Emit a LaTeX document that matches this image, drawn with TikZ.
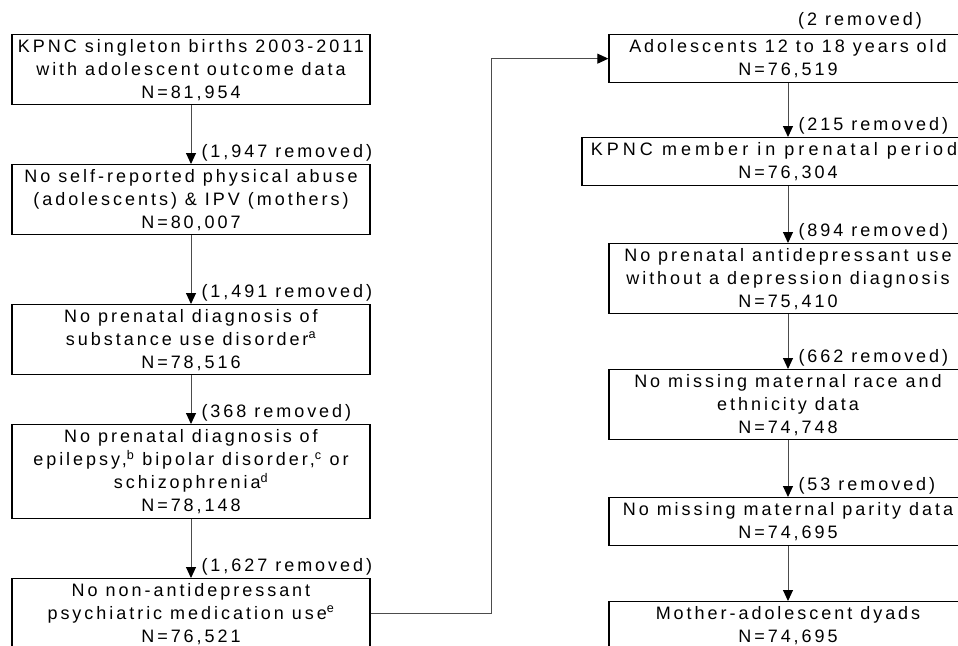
\documentclass[tikz,border=0pt]{standalone}
\usepackage{fontspec}
\usetikzlibrary{arrows.meta,calc}
\newfontfamily\figfont[LetterSpace=16.5]{Liberation Sans}
\newfontfamily\figwidefont[LetterSpace=22.5]{Liberation Sans}
\begin{document}
\begin{tikzpicture}[x=1pt,y=-1pt,
  box/.style={draw=black, line width=1.3pt, fill=white, minimum width=358pt,
    align=center, inner sep=0pt, anchor=north,
    font=\figfont\fontsize{18}{23}\selectfont},
  lab/.style={inner sep=0pt, font=\figfont\fontsize{18}{23}\selectfont},
  arr/.style={draw=black!70, line width=1pt,
    -{Triangle[color=black,width=10pt,length=11pt]}}
]
\useasboundingbox (0,0) rectangle (958,645);
\clip (0,0) rectangle (958,645);
\fill[white] (0,0) rectangle (958,645);

% left column
\node[box, minimum height=70pt] (B1) at (191,34)
  {KPNC singleton births 2003-2011\\with adolescent outcome data\\N=81,954};
\node[box, minimum height=70pt] (B2) at (191,164)
  {No self-reported physical abuse\\(adolescents) \& IPV (mothers)\\N=80,007};
\node[box, minimum height=70pt] (B3) at (191,304)
  {No prenatal diagnosis of\\substance use disorder\textsuperscript{a}\\N=78,516};
\node[box, minimum height=94pt] (B4) at (191,424)
  {No prenatal diagnosis of\\epilepsy,\textsuperscript{b} bipolar disorder,\textsuperscript{c} or\\schizophrenia\textsuperscript{d}\\N=78,148};
\node[box, minimum height=70pt] (B5) at (191,578)
  {No non-antidepressant\\psychiatric medication use\textsuperscript{e}\\N=76,521};

% right column
\node[box, minimum height=48pt] (R1) at (788,34)
  {Adolescents 12 to 18 years old\\N=76,519};
\node[box, minimum height=48pt, minimum width=412pt] (R2) at (788,137)
  {\hspace*{-28pt}{\figwidefont KPNC member in prenatal period}\\N=76,304};
\node[box, minimum height=70pt] (R3) at (788,243)
  {No prenatal antidepressant use\\without a depression diagnosis\\N=75,410};
\node[box, minimum height=70pt] (R4) at (788,369)
  {No missing maternal race and\\ethnicity data\\N=74,748};
\node[box, minimum height=48pt] (R5) at (788,497)
  {No missing maternal parity data\\N=74,695};
\node[box, minimum height=48pt] (R6) at (788,601)
  {Mother-adolescent dyads\\N=74,695};

% connectors
\draw[arr] (B1.south) -- (B2.north)
  node[lab, pos=1, anchor=base west, xshift=10pt, yshift=6.7pt] (L1) {(1,947 removed)};
\draw[arr] (B2.south) -- (B3.north)
  node[lab, pos=1, anchor=base west, xshift=10pt, yshift=6.7pt] (L2) {(1,491 removed)};
\draw[arr] (B3.south) -- (B4.north)
  node[lab, pos=1, anchor=base west, xshift=10pt, yshift=6.7pt] (L3) {(368 removed)};
\draw[arr] (B4.south) -- (B5.north)
  node[lab, pos=1, anchor=base west, xshift=10pt, yshift=6.7pt] (L4) {(1,627 removed)};

\draw[arr] (B5.east) -- ++(121,0) |- (R1.west);
\node[lab, anchor=base west] (L0) at ($(R1.north)+(10,-9)$) {(2 removed)};

\draw[arr] (R1.south) -- (R2.north)
  node[lab, pos=1, anchor=base west, xshift=10pt, yshift=6.7pt] (L5) {(215 removed)};
\draw[arr] (R2.south) -- (R3.north)
  node[lab, pos=1, anchor=base west, xshift=10pt, yshift=6.7pt] (L6) {(894 removed)};
\draw[arr] (R3.south) -- (R4.north)
  node[lab, pos=1, anchor=base west, xshift=10pt, yshift=6.7pt] (L7) {(662 removed)};
\draw[arr] (R4.south) -- (R5.north)
  node[lab, pos=1, anchor=base west, xshift=10pt, yshift=6.7pt] (L8) {(53 removed)};
\draw[arr] (R5.south) -- (R6.north);
\end{tikzpicture}
\end{document}
